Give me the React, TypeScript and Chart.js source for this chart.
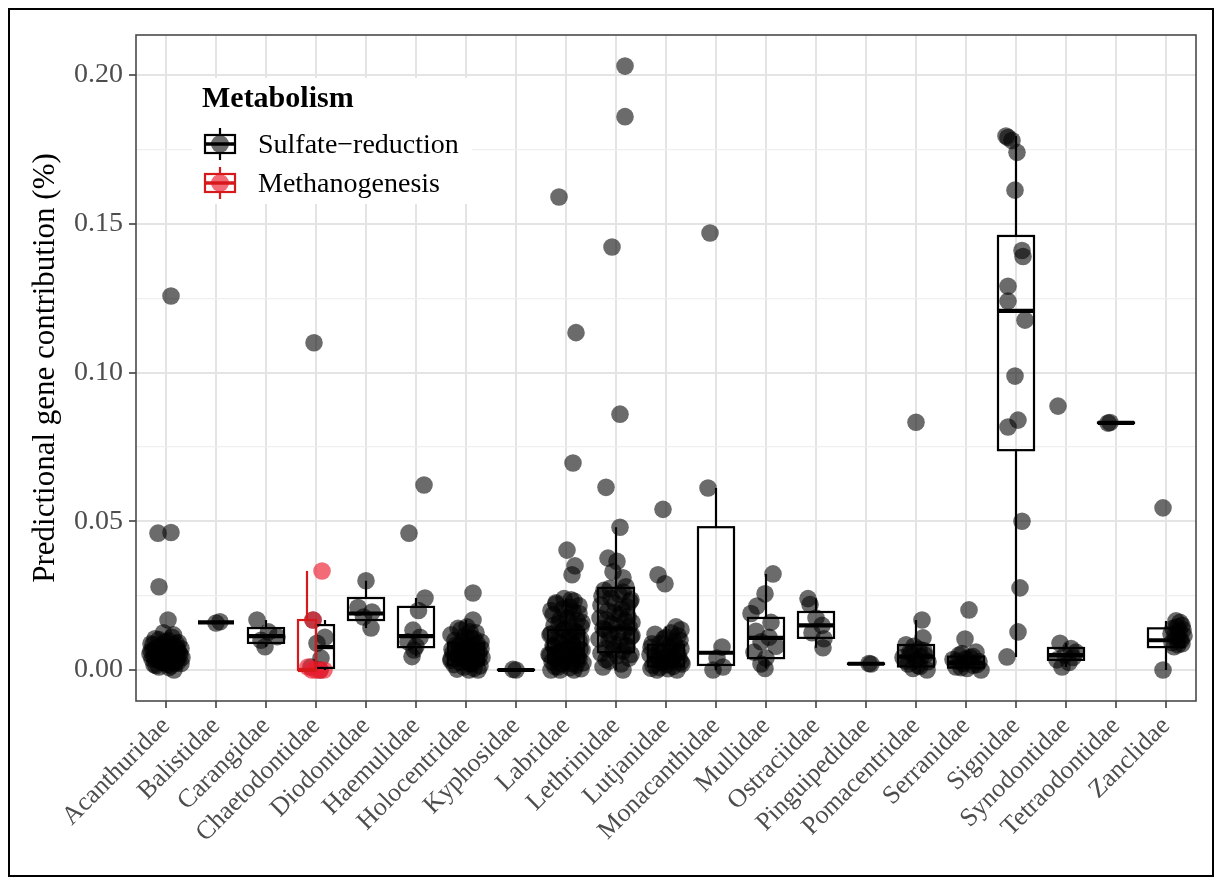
import { useEffect, useRef } from 'react';
import { Chart, registerables } from 'chart.js';

Chart.register(...registerables);

const FONT = "'Liberation Serif', 'Times New Roman', Times, serif";

const families = [
  'Acanthuridae', 'Balistidae', 'Carangidae', 'Chaetodontidae', 'Diodontidae',
  'Haemulidae', 'Holocentridae', 'Kyphosidae', 'Labridae', 'Lethrinidae',
  'Lutjanidae', 'Monacanthidae', 'Mullidae', 'Ostraciidae', 'Pinguipedidae',
  'Pomacentridae', 'Serranidae', 'Signidae', 'Synodontidae', 'Tetraodontidae', 'Zanclidae',
];

const yMajorTicks = [0, 0.05, 0.1, 0.15, 0.2];
const yMinorTicks = [0.025, 0.075, 0.125, 0.175];
const yTickLabels = ['0.00', '0.05', '0.10', '0.15', '0.20'];

const yTitle = 'Predictional gene contribution (%)';
const legendTitle = 'Metabolism';
const groupNames = ['Sulfate\u2212reduction', 'Methanogenesis'];

// Sulfate-reduction: per family point values (%)
const sulfateValues: number[][] = [
  [0.1257, 0.0460, 0.0462, 0.0280, 0.0168, 0.0125, 0.0118, 0.0105, 0.0098, 0.0092, 0.0088, 0.0084, 0.0080, 0.0076, 0.0072, 0.0070, 0.0066, 0.0063, 0.0060, 0.0057, 0.0054, 0.0052, 0.0050, 0.0048, 0.0045, 0.0042, 0.0040, 0.0037, 0.0034, 0.0031, 0.0028, 0.0025, 0.0022, 0.0018, 0.0014, 0.0010, 0.0000,
    0.0110, 0.0102, 0.0095, 0.0090, 0.0085, 0.0078, 0.0074, 0.0068, 0.0064, 0.0061, 0.0058, 0.0055, 0.0051, 0.0047, 0.0044, 0.0041, 0.0038, 0.0035, 0.0032, 0.0029, 0.0026, 0.0023, 0.0019, 0.0015, 0.0008],
  [0.0162, 0.0158],
  [0.0168, 0.0128, 0.0112, 0.0100, 0.0078],
  [0.1100, 0.0168, 0.0110, 0.0090, 0.0040, 0.0010, 0.0000],
  [0.0300, 0.0210, 0.0195, 0.0178, 0.0141],
  [0.0622, 0.0460, 0.0242, 0.0200, 0.0134, 0.0110, 0.0095, 0.0080, 0.0067, 0.0045],
  [0.0259, 0.0168, 0.0145, 0.0135, 0.0125, 0.0115, 0.0108, 0.0100, 0.0094, 0.0088, 0.0082, 0.0076, 0.0070, 0.0065, 0.0060, 0.0055, 0.0050, 0.0046, 0.0042, 0.0038, 0.0034, 0.0030, 0.0026, 0.0022, 0.0018, 0.0014, 0.0010, 0.0006, 0.0003, 0.0000, 0.0000,
    0.0140, 0.0128, 0.0118, 0.0105, 0.0097, 0.0090, 0.0084, 0.0078, 0.0072, 0.0067, 0.0062, 0.0057, 0.0052, 0.0048, 0.0044, 0.0040, 0.0036, 0.0032, 0.0028, 0.0020],
  [0.0002, 0.0000],
  [0.1590, 0.1134, 0.0696, 0.0403, 0.0350, 0.0320, 0.0240, 0.0232, 0.0222, 0.0212, 0.0200, 0.0190, 0.0180, 0.0170, 0.0160, 0.0150, 0.0142, 0.0134, 0.0126, 0.0118, 0.0110, 0.0102, 0.0095, 0.0088, 0.0082, 0.0076, 0.0070, 0.0064, 0.0058, 0.0052, 0.0047, 0.0042, 0.0037, 0.0032, 0.0028, 0.0024, 0.0020, 0.0016, 0.0012, 0.0008, 0.0004, 0.0000, 0.0000, 0.0000,
    0.0236, 0.0226, 0.0216, 0.0206, 0.0196, 0.0186, 0.0176, 0.0166, 0.0156, 0.0146, 0.0138, 0.0130, 0.0122, 0.0114, 0.0106, 0.0098, 0.0091, 0.0085, 0.0079, 0.0073, 0.0067, 0.0061, 0.0055, 0.0050, 0.0045, 0.0040, 0.0035, 0.0030, 0.0022, 0.0010],
  [0.2030, 0.1860, 0.1422, 0.0860, 0.0614, 0.0480, 0.0376, 0.0365, 0.0330, 0.0310, 0.0280, 0.0268, 0.0255, 0.0242, 0.0230, 0.0218, 0.0205, 0.0192, 0.0180, 0.0170, 0.0160, 0.0150, 0.0140, 0.0130, 0.0120, 0.0112, 0.0104, 0.0096, 0.0088, 0.0080, 0.0072, 0.0064, 0.0056, 0.0048, 0.0040, 0.0030, 0.0020, 0.0010, 0.0000,
    0.0275, 0.0262, 0.0248, 0.0236, 0.0224, 0.0212, 0.0198, 0.0186, 0.0175, 0.0165, 0.0155, 0.0145, 0.0135, 0.0125, 0.0116, 0.0100, 0.0084, 0.0068, 0.0052, 0.0035],
  [0.0540, 0.0320, 0.0290, 0.0145, 0.0135, 0.0125, 0.0115, 0.0105, 0.0095, 0.0088, 0.0080, 0.0072, 0.0065, 0.0058, 0.0052, 0.0046, 0.0040, 0.0035, 0.0030, 0.0025, 0.0020, 0.0016, 0.0012, 0.0008, 0.0004, 0.0000, 0.0000,
    0.0120, 0.0110, 0.0100, 0.0090, 0.0083, 0.0076, 0.0068, 0.0061, 0.0055, 0.0049, 0.0043, 0.0037, 0.0027, 0.0018, 0.0006],
  [0.1469, 0.0612, 0.0077, 0.0040, 0.0010, 0.0000],
  [0.0323, 0.0256, 0.0215, 0.0190, 0.0160, 0.0130, 0.0110, 0.0095, 0.0080, 0.0060, 0.0040, 0.0020, 0.0005],
  [0.0240, 0.0220, 0.0175, 0.0150, 0.0125, 0.0105, 0.0075],
  [0.0022, 0.0020],
  [0.0833, 0.0168, 0.0108, 0.0085, 0.0070, 0.0060, 0.0050, 0.0042, 0.0035, 0.0028, 0.0020, 0.0012, 0.0005, 0.0000,
    0.0080, 0.0065, 0.0055, 0.0045, 0.0030, 0.0015],
  [0.0202, 0.0104, 0.0060, 0.0050, 0.0042, 0.0035, 0.0028, 0.0022, 0.0016, 0.0010, 0.0005, 0.0000,
    0.0055, 0.0045, 0.0038, 0.0030, 0.0018, 0.0008],
  [0.1795, 0.1790, 0.1780, 0.1740, 0.1613, 0.1410, 0.1390, 0.1290, 0.1240, 0.1176, 0.0988, 0.0840, 0.0817, 0.0500, 0.0276, 0.0128, 0.0044],
  [0.0887, 0.0090, 0.0072, 0.0060, 0.0050, 0.0042, 0.0034, 0.0025, 0.0010],
  [0.0830, 0.0832],
  [0.0545, 0.0165, 0.0150, 0.0140, 0.0130, 0.0122, 0.0115, 0.0108, 0.0100, 0.0092, 0.0085, 0.0078, 0.0000,
    0.0160, 0.0145, 0.0135, 0.0118, 0.0104, 0.0088],
];

// horizontal jitter of each point (in category units)
const sulfateJitter: number[][] = [
  [0.10, -0.16, 0.10, -0.14, 0.04, -0.05, 0.15, -0.22, 0.05, 0.25, -0.30, -0.08, 0.18, -0.18, 0.30, 0.02, -0.26, 0.12, -0.10, 0.26, -0.32, 0.06, 0.20, -0.20, -0.02, 0.32, 0.14, -0.28, 0.08, -0.12, 0.24, -0.04, 0.30, -0.24, 0.10, -0.14, 0.16,
    0.12, -0.14, -0.02, 0.2, -0.26, 0.08, -0.12, 0.24, -0.3, 0.14, 0.0, -0.18, 0.28, -0.06, 0.18, -0.24, 0.04, 0.22, -0.16, 0.12, -0.08, 0.18, 0.04, -0.2, 0.06],
  [0.08, 0.0],
  [-0.18, 0.05, 0.22, -0.1, -0.02],
  [-0.04, -0.06, 0.18, 0.02, 0.1, -0.1, 0.08],
  [0.0, -0.16, 0.12, -0.05, 0.1],
  [0.16, -0.14, 0.18, 0.05, -0.06, 0.08, -0.16, 0.0, -0.04, -0.08],
  [0.14, 0.14, 0.02, -0.1, 0.2, -0.02, 0.1, -0.22, 0.3, 0.0, -0.14, 0.16, -0.28, 0.06, 0.26, -0.06, -0.2, 0.12, 0.32, -0.3, 0.0, 0.2, -0.12, 0.08, -0.24, 0.28, -0.04, 0.16, -0.18, 0.06, 0.24,
    -0.16, 0.08, -0.3, 0.16, -0.08, 0.22, -0.2, 0.04, 0.3, -0.1, 0.14, -0.26, 0.1, -0.02, 0.26, -0.14, 0.2, -0.3, 0.04, 0.12],
  [-0.06, 0.0],
  [-0.14, 0.2, 0.14, 0.02, 0.18, 0.12, -0.04, 0.16, -0.2, 0.08, -0.3, 0.26, 0.0, -0.12, 0.32, -0.24, 0.1, -0.06, 0.22, -0.32, 0.04, 0.3, -0.16, 0.14, -0.26, 0.06, 0.28, -0.1, 0.18, -0.34, 0.0, 0.24, -0.2, 0.12, -0.28, 0.34, -0.08, 0.2, -0.22, 0.08, 0.3, -0.12, 0.16, -0.3,
    0.1, -0.2, 0.26, -0.06, 0.14, -0.26, 0.04, 0.22, -0.14, 0.3, -0.04, 0.18, -0.3, 0.08, -0.18, 0.26, -0.08, 0.12, -0.24, 0.02, 0.32, -0.14, 0.2, -0.32, 0.06, -0.2, 0.26, -0.04, 0.12, -0.16],
  [0.18, 0.18, -0.08, 0.08, -0.2, 0.08, -0.16, 0.02, -0.06, 0.14, 0.2, -0.24, 0.06, -0.1, 0.28, -0.3, 0.12, -0.02, 0.24, -0.18, 0.32, 0.0, -0.26, 0.16, -0.12, 0.3, -0.34, 0.08, -0.04, 0.22, -0.2, 0.14, -0.3, 0.02, 0.26, -0.14, 0.1, -0.26, 0.14,
    -0.12, 0.14, -0.28, 0.3, -0.02, 0.22, -0.16, 0.08, -0.32, 0.18, -0.08, 0.26, -0.22, 0.04, 0.32, -0.14, 0.2, -0.06, 0.3, -0.2],
  [-0.06, -0.16, -0.02, 0.2, 0.3, 0.1, 0.24, -0.04, 0.16, -0.28, 0.06, 0.3, -0.14, 0.2, -0.32, 0.0, 0.26, -0.2, 0.1, -0.08, 0.32, -0.26, 0.14, -0.12, 0.04, 0.22, -0.18,
    -0.22, 0.0, 0.28, -0.12, 0.18, -0.3, 0.1, -0.06, 0.24, -0.22, 0.14, -0.1, 0.3, 0.02, -0.3],
  [-0.12, -0.16, 0.12, 0.02, 0.14, -0.06],
  [0.14, -0.02, -0.18, -0.3, 0.1, -0.2, 0.06, -0.1, 0.2, -0.24, 0.0, -0.1, -0.02],
  [-0.16, -0.12, 0.0, 0.12, -0.08, 0.16, 0.14],
  [0.06, 0.1],
  [0.0, 0.12, 0.14, -0.2, 0.06, -0.12, 0.18, -0.26, 0.0, 0.24, -0.16, 0.08, -0.06, 0.22,
    -0.04, 0.16, -0.1, 0.1, -0.2, 0.04],
  [0.06, -0.02, 0.2, -0.14, 0.08, -0.26, 0.26, -0.06, 0.14, -0.2, 0.02, 0.3,
    -0.08, 0.14, 0.0, -0.18, 0.22, -0.1],
  [-0.2, -0.16, -0.08, 0.02, -0.02, 0.12, 0.14, -0.16, -0.16, 0.18, -0.02, 0.04, -0.16, 0.12, 0.08, 0.04, -0.18],
  [-0.16, -0.12, 0.1, 0.2, -0.02, 0.14, -0.18, 0.06, -0.08],
  [-0.16, -0.12],
  [-0.06, 0.2, 0.32, 0.14, 0.26, 0.1, 0.36, 0.2, 0.3, 0.12, 0.24, 0.16, -0.06,
    0.28, 0.22, 0.34, 0.18, 0.26, 0.32],
];

// Sulfate-reduction box statistics per family
const sulfateQ1 = [0.0030, 0.0160, 0.0091, 0.0007, 0.0168, 0.0077, 0.0018, 0.0000, 0.0025, 0.0060, 0.0012, 0.0017, 0.0040, 0.0108, 0.0020, 0.0012, 0.0008, 0.0739, 0.0034, 0.0830, 0.0077];
const sulfateMedian = [0.0052, 0.0160, 0.0114, 0.0077, 0.0190, 0.0114, 0.0050, 0.0000, 0.0070, 0.0140, 0.0040, 0.0058, 0.0108, 0.0150, 0.0021, 0.0045, 0.0024, 0.1207, 0.0050, 0.0831, 0.0100];
const sulfateQ3 = [0.0080, 0.0160, 0.0141, 0.0151, 0.0242, 0.0212, 0.0090, 0.0001, 0.0135, 0.0276, 0.0085, 0.0480, 0.0175, 0.0195, 0.0022, 0.0084, 0.0045, 0.1459, 0.0074, 0.0832, 0.0140];
const sulfateLow = [0.0000, 0.0158, 0.0078, 0.0000, 0.0141, 0.0045, 0.0000, 0.0000, 0.0000, 0.0000, 0.0000, 0.0000, 0.0005, 0.0075, 0.0020, 0.0000, 0.0000, 0.0044, 0.0010, 0.0830, 0.0000];
const sulfateHigh = [0.0125, 0.0162, 0.0168, 0.0168, 0.0300, 0.0242, 0.0168, 0.0002, 0.0240, 0.0480, 0.0145, 0.0612, 0.0323, 0.0240, 0.0022, 0.0168, 0.0060, 0.1795, 0.0090, 0.0832, 0.0165];

// Methanogenesis (only present in Chaetodontidae)
const methaneFamily = 'Chaetodontidae';
const methaneValues = [0.0333, 0.0168, 0.0010, 0.0000, 0.0000, 0.0000, 0.0000];
const methaneJitter = [0.12, -0.06, -0.16, -0.08, 0.0, 0.08, 0.16];
const methaneQ1 = 0.0;
const methaneMedian = 0.0;
const methaneQ3 = 0.0168;
const methaneLow = 0.0;
const methaneHigh = 0.0333;

const SULFATE_POINT = 'rgba(0,0,0,0.58)';
const METHANE_POINT = 'rgba(235,30,48,0.66)';
const METHANE_LINE = '#d7191c';

export default function App() {
  const ref = useRef<HTMLCanvasElement>(null);

  useEffect(() => {
    const canvas = ref.current;
    if (!canvas) return;

    const sulfatePoints: { x: number; y: number }[] = [];
    sulfateValues.forEach((vals, i) =>
      vals.forEach((v, j) => sulfatePoints.push({ x: i + (sulfateJitter[i][j] ?? 0), y: v }))
    );
    const mi = families.indexOf(methaneFamily);
    const methanePoints = methaneValues.map((v, j) => ({ x: mi + methaneJitter[j], y: v }));

    const isMajor = (v: number) => Math.abs(v / 0.05 - Math.round(v / 0.05)) < 1e-6;
    const allYTicks = [...yMajorTicks, ...yMinorTicks].sort((a, b) => a - b);

    const BOX_W = 0.72;

    const boxPlugin = {
      id: 'boxplots',
      afterDatasetsDraw(chart: any) {
        const { ctx } = chart;
        const xs = chart.scales.x;
        const ys = chart.scales.y;
        const drawBox = (
          center: number, width: number,
          q1: number, med: number, q3: number, lo: number, hi: number, color: string
        ) => {
          const xl = xs.getPixelForValue(center - width / 2);
          const xr = xs.getPixelForValue(center + width / 2);
          const xc = xs.getPixelForValue(center);
          const p1 = ys.getPixelForValue(q1);
          const p3 = ys.getPixelForValue(q3);
          const pm = ys.getPixelForValue(med);
          const pl = ys.getPixelForValue(lo);
          const ph = ys.getPixelForValue(hi);
          ctx.strokeStyle = color;
          ctx.lineWidth = 2.2;
          ctx.beginPath();
          ctx.moveTo(xc, p3);
          ctx.lineTo(xc, ph);
          ctx.moveTo(xc, p1);
          ctx.lineTo(xc, pl);
          ctx.stroke();
          ctx.strokeRect(xl, p3, xr - xl, p1 - p3);
          ctx.lineWidth = 4.2;
          ctx.beginPath();
          ctx.moveTo(xl, pm);
          ctx.lineTo(xr, pm);
          ctx.stroke();
        };
        ctx.save();
        families.forEach((_, i) => {
          const dodged = i === mi;
          const center = dodged ? i + BOX_W / 4 : i;
          const width = dodged ? BOX_W / 2 : BOX_W;
          drawBox(center, width, sulfateQ1[i], sulfateMedian[i], sulfateQ3[i], sulfateLow[i], sulfateHigh[i], '#000');
        });
        drawBox(mi - BOX_W / 4, BOX_W / 2, methaneQ1, methaneMedian, methaneQ3, methaneLow, methaneHigh, METHANE_LINE);
        ctx.restore();
      },
    };

    const framePlugin = {
      id: 'panelFrame',
      afterDatasetsDraw(chart: any) {
        const { ctx, chartArea: a } = chart;
        ctx.save();
        ctx.strokeStyle = '#4a4a4a';
        ctx.lineWidth = 1.6;
        ctx.strokeRect(a.left, a.top, a.right - a.left, a.bottom - a.top);
        ctx.restore();
      },
    };

    const legendPlugin = {
      id: 'insideLegend',
      afterDraw(chart: any) {
        const { ctx, chartArea: a } = chart;
        const L = a.left;
        const T = a.top;
        ctx.save();
        ctx.fillStyle = '#ffffff';
        ctx.fillRect(L + 56, T + 43, 280, 126);
        ctx.fillStyle = '#000';
        ctx.textBaseline = 'middle';
        ctx.textAlign = 'left';
        ctx.font = `bold 30px ${FONT}`;
        ctx.fillText(legendTitle, L + 66, T + 64);
        const keys = [
          { cy: T + 109, fill: SULFATE_POINT, line: '#000' },
          { cy: T + 148, fill: METHANE_POINT, line: METHANE_LINE },
        ];
        keys.forEach((k, idx) => {
          const cx = L + 84;
          ctx.fillStyle = k.fill;
          ctx.beginPath();
          ctx.arc(cx, k.cy, 9, 0, Math.PI * 2);
          ctx.fill();
          ctx.strokeStyle = k.line;
          ctx.lineWidth = 2.2;
          ctx.beginPath();
          ctx.moveTo(cx, k.cy - 16);
          ctx.lineTo(cx, k.cy - 9);
          ctx.moveTo(cx, k.cy + 9);
          ctx.lineTo(cx, k.cy + 16);
          ctx.stroke();
          ctx.strokeRect(cx - 15, k.cy - 9, 30, 18);
          ctx.lineWidth = 3.5;
          ctx.beginPath();
          ctx.moveTo(cx - 15, k.cy);
          ctx.lineTo(cx + 15, k.cy);
          ctx.stroke();
          ctx.fillStyle = '#000';
          ctx.font = `28px ${FONT}`;
          ctx.fillText(groupNames[idx], L + 122, k.cy + 2);
        });
        ctx.restore();
      },
    };

    const chart = new Chart(canvas, {
      type: 'scatter',
      data: {
        datasets: [
          {
            label: groupNames[1],
            data: methanePoints,
            pointBackgroundColor: METHANE_POINT,
            pointBorderColor: 'rgba(0,0,0,0)',
            pointBorderWidth: 0,
            pointRadius: 8.8,
          },
          {
            label: groupNames[0],
            data: sulfatePoints,
            pointBackgroundColor: SULFATE_POINT,
            pointBorderColor: 'rgba(0,0,0,0)',
            pointBorderWidth: 0,
            pointRadius: 8.8,
          },
        ],
      },
      options: {
        responsive: false,
        animation: false,
        devicePixelRatio: 1,
        events: [],
        layout: { padding: { top: 25, right: 16, bottom: 0, left: 0 } },
        plugins: { legend: { display: false }, tooltip: { enabled: false } },
        scales: {
          x: {
            type: 'linear',
            min: -0.6,
            max: families.length - 0.4,
            afterBuildTicks: (s: any) => {
              s.ticks = families.map((_, i) => ({ value: i }));
            },
            afterFit: (s: any) => {
              s.height = 174;
            },
            ticks: {
              autoSkip: false,
              maxRotation: 45,
              minRotation: 45,
              padding: 3,
              color: '#4d4d4d',
              font: { family: FONT, size: 26 },
              callback: (v: any) => families[Math.round(Number(v))],
            },
            grid: {
              color: '#e4e4e4',
              lineWidth: 2,
              tickLength: 7,
              tickColor: '#333',
              tickWidth: 1.5,
            },
            border: { display: false },
          },
          y: {
            type: 'linear',
            min: -0.01042,
            max: 0.21345,
            afterBuildTicks: (s: any) => {
              s.ticks = allYTicks.map((v) => ({ value: v }));
            },
            afterFit: (s: any) => {
              s.width = 126;
            },
            ticks: {
              padding: 6,
              color: '#4d4d4d',
              font: { family: FONT, size: 28 },
              callback: (v: any) => {
                const idx = yMajorTicks.findIndex((m) => Math.abs(m - Number(v)) < 1e-6);
                return idx >= 0 ? yTickLabels[idx] : '';
              },
            },
            grid: {
              color: (c: any) => (c.tick && isMajor(c.tick.value) ? '#e4e4e4' : '#efefef'),
              lineWidth: (c: any) => (c.tick && isMajor(c.tick.value) ? 2 : 1.2),
              tickLength: 7,
              tickColor: (c: any) => (c.tick && isMajor(c.tick.value) ? '#333' : 'rgba(0,0,0,0)'),
              tickWidth: 1.5,
            },
            border: { display: false },
            title: {
              display: true,
              text: yTitle,
              color: '#000',
              font: { family: FONT, size: 31 },
              padding: { top: 17, bottom: 0 },
            },
          },
        },
      },
      plugins: [boxPlugin, framePlugin, legendPlugin],
    } as any);

    return () => chart.destroy();
  }, []);

  return (
    <div
      style={{
        width: 1206,
        height: 869,
        border: '2px solid #000',
        boxSizing: 'border-box',
        background: '#fff',
      }}
    >
      <canvas ref={ref} width={1202} height={865} style={{ display: 'block' }} />
    </div>
  );
}
